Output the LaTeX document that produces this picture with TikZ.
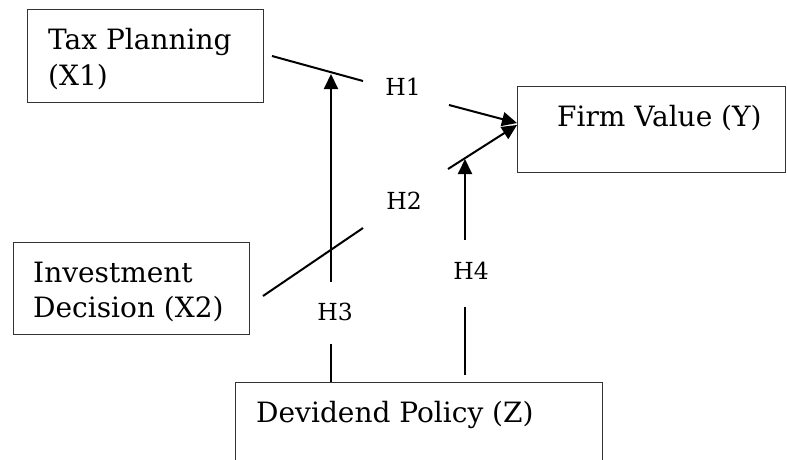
\documentclass[tikz,border=0pt]{standalone}
\usepackage{fontspec}
\setmainfont{DejaVu Serif}
\usetikzlibrary{arrows.meta}
\begin{document}
\begin{tikzpicture}[x=1pt,y=-1pt,
 box/.style={draw=black!80, line width=1.3pt, rectangle, inner sep=0pt, anchor=north west},
 txt/.style={font=\fontsize{28}{32}\selectfont, inner sep=0pt, anchor=base west},
 hl/.style={font=\fontsize{23.5}{28}\selectfont, inner sep=0pt},
 conn/.style={line width=2pt},
 arr/.style={conn, -{Triangle[length=15pt,width=14pt]}}]
\useasboundingbox (0,0) rectangle (787,459);
% boxes
\node[box, minimum width=236pt, minimum height=93pt] (tax) at (27,9) {};
\node[box, minimum width=268pt, minimum height=86pt] (firm) at (517,86) {};
\node[box, minimum width=236pt, minimum height=92pt] (inv) at (13,242) {};
\node[box, minimum width=367pt, minimum height=95pt] (div) at (235,382) {};
% texts
\node[txt] (taxa) at (48,49) {Tax Planning};
\node[txt] (taxb) at (48,85) {(X1)};
\node[txt] (firmt) at (557,126) {Firm Value (Y)};
\node[txt] (inva) at (33,282) {Investment};
\node[txt] (invb) at (33,317) {Decision (X2)};
\node[txt] (divt) at (256,422) {Devidend Policy (Z)};
% hypothesis labels
\node[hl] (h1) at (403,87) {H1};
\node[hl] (h2) at (404,201) {H2};
\node[hl] (h3) at (335,312) {H3};
\node[hl] (h4) at (471,271) {H4};
% connector coordinates
\coordinate (p1a) at (272,56);
\coordinate (p1b) at (363,81);
\coordinate (p1c) at (449,105);
\coordinate (p1d) at (517,123);
\coordinate (p2a) at (263,296);
\coordinate (p2b) at (363,228);
\coordinate (p2c) at (448,169);
\coordinate (p2d) at (517,125);
\coordinate (p3a) at (331,382);
\coordinate (p3b) at (331,344);
\coordinate (p3c) at (331,282);
\coordinate (p3d) at (331,74);
\coordinate (p4a) at (465,375);
\coordinate (p4b) at (465,307);
\coordinate (p4c) at (465,240);
\coordinate (p4d) at (465,159);
% connectors
\draw[conn] (p1a) -- (p1b);
\draw[arr] (p1c) -- (p1d);
\draw[conn] (p2a) -- (p2b);
\draw[arr] (p2c) -- (p2d);
\draw[conn] (p3a) -- (p3b);
\draw[arr] (p3c) -- (p3d);
\draw[conn] (p4a) -- (p4b);
\draw[arr] (p4c) -- (p4d);
\end{tikzpicture}
\end{document}
